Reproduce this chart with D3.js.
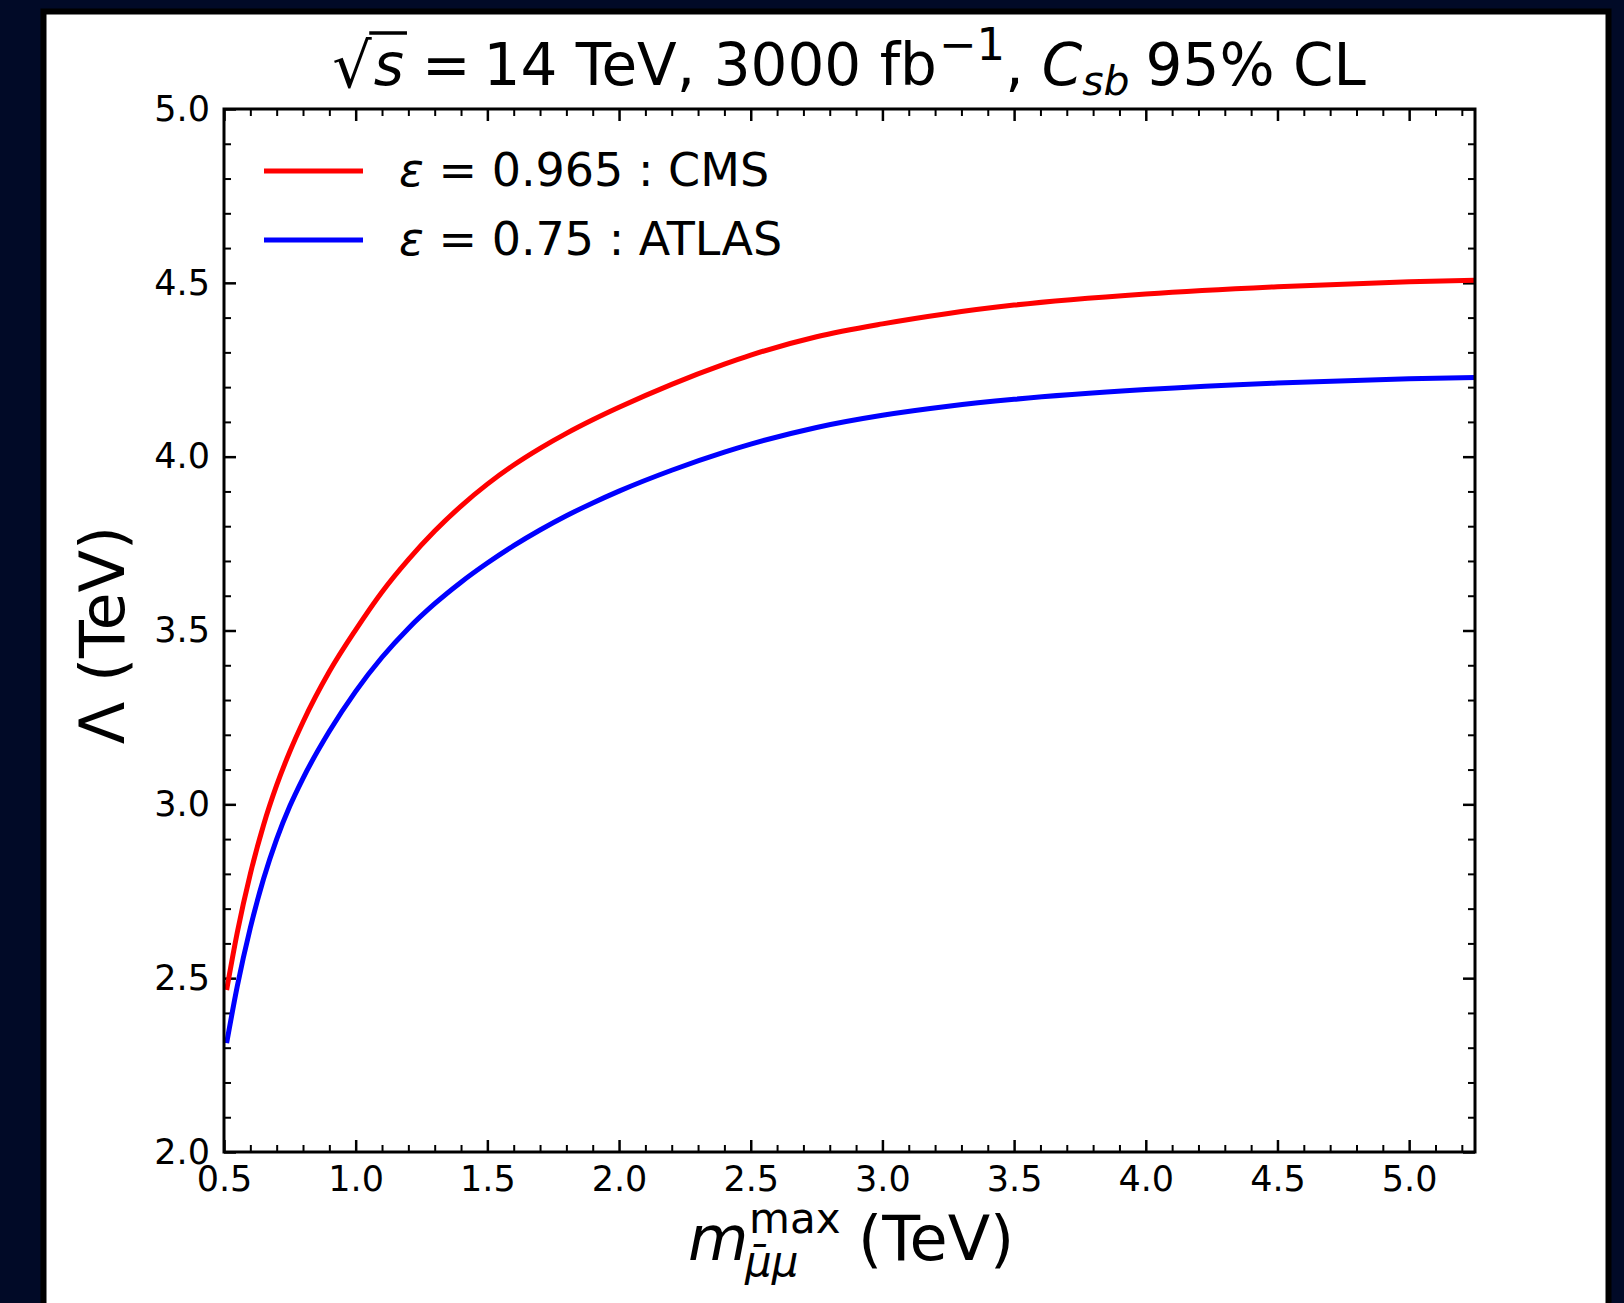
<!DOCTYPE html>
<html>
<head>
<meta charset="utf-8">
<script src="https://cdn.jsdelivr.net/npm/d3@7"></script>
<style>
  html, body { margin: 0; padding: 0; background: #010a27; }
  svg { display: block; font-family: "DejaVu Sans", sans-serif; }
</style>
</head>
<body>
<svg id="chart" width="1624" height="1303"></svg>
<script>
// m_max (TeV) sample points
const mMax = [0.51, 0.55, 0.6, 0.65, 0.7, 0.75, 0.8, 0.9, 1.0, 1.1, 1.2, 1.3, 1.4, 1.5, 1.6, 1.7, 1.8, 1.9, 2.0,
  2.2, 2.4, 2.5, 2.75, 3.0, 3.25, 3.5, 4.0, 4.5, 5.0, 5.25];

// Lambda (TeV), eps = 0.965 (CMS)
const lambdaCMS = [2.466, 2.63, 2.80, 2.94, 3.055, 3.152, 3.237, 3.382, 3.502, 3.611, 3.704, 3.786, 3.858, 3.921,
  3.976, 4.024, 4.067, 4.106, 4.142, 4.208, 4.266, 4.292, 4.345, 4.382, 4.412, 4.436, 4.468, 4.489, 4.503, 4.5075];

// Lambda (TeV), eps = 0.75 (ATLAS)
const lambdaATLAS = [2.313, 2.475, 2.645, 2.785, 2.90, 2.995, 3.075, 3.21, 3.325, 3.423, 3.506, 3.577, 3.639, 3.694,
  3.744, 3.789, 3.83, 3.867, 3.901, 3.961, 4.013, 4.036, 4.084, 4.119, 4.145, 4.165, 4.193, 4.212, 4.224, 4.228];

const seriesNames = ["0.965 : CMS", "0.75 : ATLAS"];
const seriesColors = ["#ff0000", "#0000ff"];

const xMajor = [0.5, 1.0, 1.5, 2.0, 2.5, 3.0, 3.5, 4.0, 4.5, 5.0];
const yMajor = [2.0, 2.5, 3.0, 3.5, 4.0, 4.5, 5.0];

const svg = d3.select("#chart");

// figure panel
svg.append("rect")
  .attr("x", 43.5).attr("y", 11.5)
  .attr("width", 1565).attr("height", 1330)
  .attr("fill", "#fff")
  .attr("stroke", "#000")
  .attr("stroke-width", 6);

const margin = { left: 224, top: 109, right: 1475, bottom: 1152 };
const width = margin.right - margin.left;
const height = margin.bottom - margin.top;

const x = d3.scaleLinear().domain([0.5, 5.25]).range([0, width]);
const y = d3.scaleLinear().domain([2.0, 5.0]).range([height, 0]);

const g = svg.append("g").attr("transform", `translate(${margin.left},${margin.top})`);

// minor tick values (every 0.1)
const isHalf = (d) => Math.abs(d * 2 - Math.round(d * 2)) < 1e-6;
const xMinor = d3.range(5, 53).map((d) => d / 10).filter((d) => !isHalf(d));
const yMinor = d3.range(20, 51).map((d) => d / 10).filter((d) => !isHalf(d));

const tickFmt = d3.format(".1f");

function styleAxis(sel, w) {
  sel.select(".domain").remove();
  sel.selectAll("line").attr("stroke", "#000").attr("stroke-width", w);
  sel.selectAll("text").attr("fill", "#000").style("font-size", "35px").style("font-family", "DejaVu Sans");
}

// bottom
g.append("g").attr("transform", `translate(0,${height})`)
  .call(d3.axisBottom(x).tickValues(xMajor).tickFormat(tickFmt).tickSizeInner(-12).tickSizeOuter(0).tickPadding(14))
  .call(styleAxis, 2.5);
g.append("g").attr("transform", `translate(0,${height})`)
  .call(d3.axisBottom(x).tickValues(xMinor).tickFormat("").tickSizeInner(-7).tickSizeOuter(0))
  .call(styleAxis, 2);
// top
g.append("g")
  .call(d3.axisTop(x).tickValues(xMajor).tickFormat("").tickSizeInner(-12).tickSizeOuter(0))
  .call(styleAxis, 2.5);
g.append("g")
  .call(d3.axisTop(x).tickValues(xMinor).tickFormat("").tickSizeInner(-7).tickSizeOuter(0))
  .call(styleAxis, 2);
// left
g.append("g")
  .call(d3.axisLeft(y).tickValues(yMajor).tickFormat(tickFmt).tickSizeInner(-12).tickSizeOuter(0).tickPadding(14))
  .call(styleAxis, 2.5);
g.append("g")
  .call(d3.axisLeft(y).tickValues(yMinor).tickFormat("").tickSizeInner(-7).tickSizeOuter(0))
  .call(styleAxis, 2);
// right
g.append("g").attr("transform", `translate(${width},0)`)
  .call(d3.axisRight(y).tickValues(yMajor).tickFormat("").tickSizeInner(-12).tickSizeOuter(0))
  .call(styleAxis, 2.5);
g.append("g").attr("transform", `translate(${width},0)`)
  .call(d3.axisRight(y).tickValues(yMinor).tickFormat("").tickSizeInner(-7).tickSizeOuter(0))
  .call(styleAxis, 2);

// curves
g.append("defs").append("clipPath").attr("id", "plot-clip")
  .append("rect").attr("width", width).attr("height", height);

const line = d3.line()
  .x((d) => x(d[0]))
  .y((d) => y(d[1]))
  .curve(d3.curveMonotoneX);

const plot = g.append("g").attr("clip-path", "url(#plot-clip)");
[lambdaCMS, lambdaATLAS].forEach((vals, i) => {
  plot.append("path")
    .datum(mMax.map((m, k) => [m, vals[k]]))
    .attr("d", line)
    .attr("fill", "none")
    .attr("stroke", seriesColors[i])
    .attr("stroke-width", 5)
    .attr("stroke-linejoin", "round");
});

// frame
g.append("rect")
  .attr("width", width).attr("height", height)
  .attr("fill", "none").attr("stroke", "#000").attr("stroke-width", 3);

// legend
const legendY = [171, 240];
seriesNames.forEach((name, i) => {
  svg.append("line")
    .attr("x1", 264).attr("x2", 363)
    .attr("y1", legendY[i]).attr("y2", legendY[i])
    .attr("stroke", seriesColors[i]).attr("stroke-width", 5);
  const t = svg.append("text")
    .attr("x", 399).attr("y", legendY[i] + 15)
    .style("font-size", "46px");
  t.append("tspan").style("font-style", "italic").text("ε");
  t.append("tspan").text(" = " + name);
});

// text pieces, laid out like matplotlib mathtext
function piece(parent, px, py, str, size, italic) {
  return parent.append("text")
    .attr("x", px).attr("y", py)
    .style("font-size", size + "px")
    .style("font-style", italic ? "italic" : "normal")
    .text(str);
}

// title: chain pieces left to right, then centre over the axes
const titleG = svg.append("g");
const tBase = 85;
let cx = 0;
function chain(str, size, italic, dy, gapBefore) {
  cx += gapBefore || 0;
  const t = piece(titleG, cx, tBase + (dy || 0), str, size, italic);
  cx += t.node().getComputedTextLength();
  return t;
}
const rad = chain("√", 62, false, 2, 0);
const sVar = chain("s", 58, true, 0, 2);
const rb = rad.node().getBBox();
const sb = sVar.node().getBBox();
titleG.append("line")
  .attr("x1", rb.x + rb.width - 3).attr("x2", sb.x + sb.width + 3)
  .attr("y1", rb.y + 4).attr("y2", rb.y + 4)
  .attr("stroke", "#000").attr("stroke-width", 3.5);
cx = Math.max(cx, sb.x + sb.width + 3);
chain("=", 58, false, 0, 15);
chain("14 TeV, 3000 fb", 58, false, 0, 13);
chain("−1", 45, false, -25, 2);
chain(",", 58, false, 0, 0);
chain("C", 58, true, 0, 18);
chain("sb", 41, true, 10, 0);
chain("95% CL", 58, false, 0, 16);
titleG.attr("transform", `translate(${849 - cx / 2},0)`);

// y label
svg.append("text")
  .attr("transform", "translate(124,635) rotate(-90)")
  .attr("text-anchor", "middle")
  .style("font-size", "62px")
  .text("Λ (TeV)");

// x label
piece(svg, 688, 1260, "m", 62, true);
piece(svg, 749, 1233, "max", 42, false);
piece(svg, 745, 1276, "μ̄μ", 42, true);
piece(svg, 858, 1260, "(TeV)", 62, false);
</script>
</body>
</html>
